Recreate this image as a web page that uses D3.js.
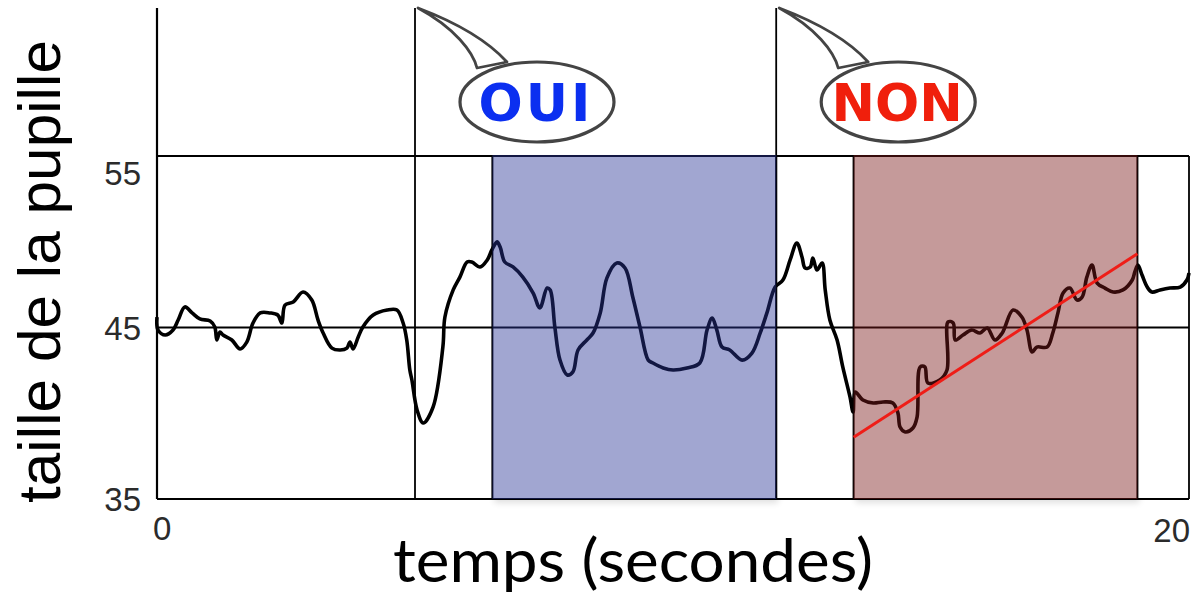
<!DOCTYPE html>
<html>
<head>
<meta charset="utf-8">
<script src="https://cdn.jsdelivr.net/npm/d3@7"></script>
<style>
  html, body { margin: 0; padding: 0; background: #fff; }
  svg { display: block; }
</style>
</head>
<body>
<svg id="chart" width="1192" height="594"></svg>
<script>
// ---- data ----
const timeSec = [0.00,0.02,0.16,0.31,0.41,0.54,0.68,0.83,1.03,1.12,1.16,1.22,1.28,1.45,1.61,1.74,1.86,2.00,2.19,2.34,2.42,2.48,2.64,2.83,3.00,3.12,3.22,3.39,3.55,3.68,3.74,3.80,3.90,3.99,4.19,4.46,4.65,4.77,4.84,4.90,4.94,5.04,5.16,5.35,5.54,5.58,5.74,5.87,6.01,6.10,6.26,6.40,6.49,6.59,6.65,6.74,6.90,7.09,7.29,7.42,7.56,7.62,7.71,7.81,7.95,8.06,8.16,8.33,8.45,8.59,8.72,8.91,9.07,9.22,9.36,9.52,9.61,9.81,10.00,10.27,10.52,10.66,10.76,10.85,10.95,11.10,11.34,11.53,11.69,11.82,11.98,12.13,12.27,12.40,12.50,12.56,12.66,12.71,12.79,12.89,12.95,13.04,13.18,13.29,13.43,13.49,13.53,13.68,13.88,14.07,14.26,14.36,14.40,14.50,14.65,14.73,14.79,14.88,14.94,15.17,15.31,15.33,15.43,15.47,15.62,15.79,15.95,16.09,16.24,16.38,16.59,16.76,16.86,16.96,17.05,17.25,17.36,17.46,17.56,17.69,17.83,17.93,18.02,18.12,18.22,18.37,18.53,18.72,18.90,18.95,19.01,19.09,19.19,19.28,19.44,19.63,19.83,19.96,20.00];
const pupilSize = [45.61,44.85,44.56,44.85,45.44,46.20,45.85,45.50,45.38,45.03,44.27,44.74,44.56,44.27,43.75,44.15,45.26,45.85,45.85,45.73,45.26,46.31,46.49,47.07,46.60,45.44,44.68,43.80,43.69,43.80,44.15,43.75,44.45,45.03,45.73,46.02,46.02,45.26,44.27,42.52,41.94,40.19,39.43,40.36,43.86,45.61,47.19,47.94,48.82,48.82,48.53,48.94,49.52,49.99,49.69,48.82,48.53,47.94,47.01,46.14,47.30,47.19,45.03,43.10,42.23,42.41,43.69,44.27,44.68,45.85,47.89,48.76,48.47,46.78,45.03,43.10,42.93,42.64,42.52,42.64,42.93,44.85,45.55,44.85,43.86,43.69,43.10,43.51,44.68,45.85,47.36,47.77,48.94,49.93,49.11,48.47,48.53,49.05,48.35,48.76,47.19,45.44,44.27,42.70,40.95,40.07,41.24,40.77,40.60,40.66,40.60,40.01,39.20,38.91,39.14,39.78,42.70,42.70,41.76,41.94,42.52,45.32,45.26,44.27,44.56,44.85,44.68,44.97,44.27,44.68,46.02,45.61,44.85,43.57,43.86,43.86,44.68,45.85,47.01,47.30,46.60,46.78,47.94,48.64,47.59,47.30,47.07,47.19,47.77,48.24,48.64,48.06,47.36,47.07,47.19,47.30,47.36,47.77,48.18];

const eventTimes = [5, 12];                 // vertical markers
const answerLabels = ["OUI", "NON"];
const periodStart = [6.5, 13.5];
const periodEnd = [12, 19];
const trendTime = [13.5, 19];
const trendValue = [38.6, 49.3];
const yTicks = [35, 45, 55];
const yTickLabels = ["35", "45", "55"];
const xTicks = [0, 20];
const xTickLabels = ["0", "20"];
const gridValues = [45, 55];

// ---- layout ----
const svg = d3.select("#chart");
const x = d3.scaleLinear().domain([0, 20]).range([157, 1189]);
const y = d3.scaleLinear().domain([35, 55]).range([499, 156]);
const topY = 8;

const periodFill = ["rgb(40,52,150)", "rgb(122,24,24)"];
const answerColor = ["#0b2ff0", "#f01f0c"];

// soft shadow filter for shaded periods
const defs = svg.append("defs");
const f = defs.append("filter").attr("id", "sh").attr("x", "-5%").attr("y", "-5%").attr("width", "110%").attr("height", "115%");
f.append("feGaussianBlur").attr("stdDeviation", 3);

// shadows
svg.append("g").selectAll("rect").data(periodStart).join("rect")
  .attr("x", (d, i) => x(d) + 2)
  .attr("y", y(55) + 4)
  .attr("width", (d, i) => x(periodEnd[i]) - x(d))
  .attr("height", y(35) - y(55))
  .attr("fill", "#000").attr("opacity", 0.12).attr("filter", "url(#sh)");

svg.append("rect").attr("x", x(0)).attr("y", y(55)).attr("width", x(20) - x(0)).attr("height", y(35) - y(55)).attr("fill", "#fff");

// frame
const frame = svg.append("g").attr("stroke", "#000").attr("fill", "none");
frame.append("line").attr("x1", x(0)).attr("x2", x(0)).attr("y1", topY).attr("y2", y(35)).attr("stroke-width", 2.2);
frame.append("line").attr("x1", x(0)).attr("x2", x(20)).attr("y1", y(35)).attr("y2", y(35)).attr("stroke-width", 2.2);
frame.append("line").attr("x1", x(20)).attr("x2", x(20)).attr("y1", y(55)).attr("y2", y(35)).attr("stroke-width", 1.8);
frame.selectAll("line.grid").data(gridValues).join("line").attr("class", "grid")
  .attr("x1", x(0)).attr("x2", x(20)).attr("y1", d => y(d)).attr("y2", d => y(d)).attr("stroke-width", 2);
frame.selectAll("line.ev").data(eventTimes).join("line").attr("class", "ev")
  .attr("x1", d => x(d)).attr("x2", d => x(d)).attr("y1", topY).attr("y2", y(35)).attr("stroke-width", 1.8);

// period borders
svg.append("g").selectAll("rect").data(periodStart).join("rect")
  .attr("x", d => x(d)).attr("y", y(55))
  .attr("width", (d, i) => x(periodEnd[i]) - x(d))
  .attr("height", y(35) - y(55))
  .attr("fill", "none").attr("stroke", "#000").attr("stroke-width", 2);

// pupil curve
const series = timeSec.map((t, i) => [t, pupilSize[i]]);
svg.append("path").datum(series)
  .attr("d", d3.line().x(d => x(d[0])).y(d => y(d[1])).curve(d3.curveCatmullRom.alpha(0.5)))
  .attr("fill", "none").attr("stroke", "#000").attr("stroke-width", 3.6).attr("stroke-linejoin", "round");

// translucent period overlays
svg.append("g").selectAll("rect").data(periodStart).join("rect")
  .attr("x", d => x(d)).attr("y", y(55) - 1)
  .attr("width", (d, i) => x(periodEnd[i]) - x(d))
  .attr("height", y(35) - y(55) + 1)
  .attr("fill", (d, i) => periodFill[i]).attr("fill-opacity", 0.44);

// trend line
svg.append("line")
  .attr("x1", x(trendTime[0])).attr("y1", y(trendValue[0]))
  .attr("x2", x(trendTime[1])).attr("y2", y(trendValue[1]))
  .attr("stroke", "#ef1d17").attr("stroke-width", 3);

// callouts
const callouts = svg.append("g").selectAll("g").data(eventTimes).join("g")
  .attr("transform", d => `translate(${x(d)},0)`);
callouts.append("path")
  .attr("d", "M62,68 C58,52 40,28 3,8 C40,22 72,40 92,62 Z")
  .attr("fill", "#fff").attr("stroke", "#444").attr("stroke-width", 2.8).attr("stroke-linejoin", "round");
callouts.append("ellipse")
  .attr("cx", 122).attr("cy", 102).attr("rx", 77).attr("ry", 40)
  .attr("fill", "#fff").attr("stroke", "#444").attr("stroke-width", 3.2);
callouts.append("text")
  .attr("x", 121).attr("y", 121)
  .attr("text-anchor", "middle")
  .attr("font-family", "DejaVu Sans, Verdana, sans-serif")
  .attr("font-weight", "bold").attr("font-size", 52)
  .attr("letter-spacing", (d, i) => i === 0 ? 3 : 0)
  .attr("fill", (d, i) => answerColor[i])
  .text((d, i) => answerLabels[i]);

// y tick labels
svg.append("g").selectAll("text").data(yTicks).join("text")
  .attr("x", 141)
  .attr("y", (d, i) => y(d) + (d === 55 ? 29 : 12))
  .attr("text-anchor", "end")
  .attr("font-family", "Liberation Sans, Arial, sans-serif")
  .attr("font-size", 33).attr("fill", "#2b2b2b")
  .text((d, i) => yTickLabels[i]);

// x tick labels
svg.append("g").selectAll("text").data(xTicks).join("text")
  .attr("x", (d, i) => i === 0 ? x(d) - 4 : 1190)
  .attr("y", (d, i) => i === 0 ? 540 : 542)
  .attr("text-anchor", (d, i) => i === 0 ? "start" : "end")
  .attr("font-family", "Liberation Sans, Arial, sans-serif")
  .attr("font-size", 33).attr("fill", "#2b2b2b")
  .text((d, i) => xTickLabels[i]);

// axis titles
svg.append("text")
  .attr("x", 393).attr("y", 582)
  .attr("font-family", "Lato, Open Sans, sans-serif")
  .attr("font-size", 60).attr("fill", "#000")
  .attr("textLength", 480).attr("lengthAdjust", "spacingAndGlyphs")
  .text("temps (secondes)");

svg.append("text")
  .attr("transform", "translate(60,271.5) rotate(-90)")
  .attr("text-anchor", "middle")
  .attr("font-family", "Liberation Sans, Arial, sans-serif")
  .attr("font-size", 59).attr("fill", "#000")
  .attr("textLength", 463).attr("lengthAdjust", "spacingAndGlyphs")
  .text("taille de la pupille");
</script>
</body>
</html>
